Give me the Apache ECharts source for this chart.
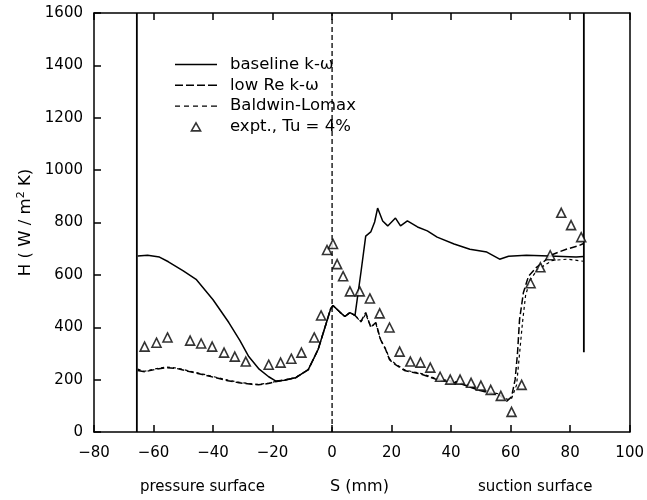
<!DOCTYPE html>
<html><head><meta charset="utf-8">
<script src="https://cdn.jsdelivr.net/npm/echarts@6/dist/echarts.min.js"></script>
<style>html,body{margin:0;padding:0;background:#fff}#c{width:647px;height:500px}</style>
</head><body><div id="c"></div>
<script>
// ---- data ----
var xTicks = [-80,-60,-40,-20,0,20,40,60,80,100];
var yTicks = [0,200,400,600,800,1000,1200,1400,1600];

var baseline = [[-65.3,672],[-62,675],[-58,668],[-55,650],[-50,615],[-45.7,583],[-40,505],[-34.7,418],[-31,350],[-28,288],[-24.5,240],[-21.3,211],[-19,195],[-16,198],[-12.3,207],[-8,238],[-4.7,315],[-2.3,403],[-0.5,470],[0.3,483],[2.7,457],[4.3,441],[6,456],[7.7,445],[9.7,610],[11.3,748],[13,764],[14.3,802],[15.3,855],[17,806],[18.7,787],[21.3,817],[23,787],[25.3,806],[28.7,783],[32,768],[35.3,744],[41,718],[46.3,698],[52,687],[56.3,660],[59.3,671],[65.3,675],[73,672],[82,668],[84.5,670]];

var lowRe = [[-65.3,235],[-63,230],[-59,240],[-55.7,246],[-52,242],[-48,231],[-43,218],[-39,207],[-35,196],[-31.3,188],[-27,182],[-24.7,180],[-21,186],[-19,192],[-16,198],[-12.3,207],[-8,238],[-4.7,315],[-2.3,403],[-0.5,470],[0.3,483],[2.7,457],[4.3,441],[6,456],[7.7,445],[9.7,422],[11.3,456],[13,400],[14.7,418],[16.3,353],[18,315],[19.3,276],[21.3,257],[24.3,235],[27,228],[29.7,222],[35.3,200],[43,185],[49.7,158],[56.3,140],[58.7,118],[60.3,134],[61.5,200],[62.3,300],[63,430],[64.3,533],[66,595],[68.7,629],[74.3,679],[78.7,698],[83,712],[84.5,720]];

var baldwin = [[-65.3,240],[-63,232],[-59,242],[-55.7,248],[-52,244],[-48,233],[-43,220],[-39,209],[-35,198],[-31.3,190],[-27,184],[-24.7,182],[-21,187],[-19,193],[-16,199],[-12.3,208],[-8,238],[-4.7,315],[-2.3,403],[-0.5,470],[0.3,483],[2.7,457],[4.3,441],[6,456],[7.7,445],[9.7,420],[11.3,450],[13,402],[14.7,415],[16.3,350],[18,318],[19.3,280],[21.3,260],[24.3,238],[27,230],[29.7,224],[35.3,203],[43,190],[49.7,160],[56.3,145],[58.7,125],[60.3,128],[62,180],[63,300],[64,420],[65,520],[66.5,580],[69,620],[74,655],[79,660],[84.5,652]];

var expt = [[-63,326],[-59,341],[-55.3,361],[-47.7,349],[-44,338],[-40.3,326],[-36.3,303],[-32.7,288],[-29,269],[-21.3,257],[-17.3,265],[-13.7,280],[-10.3,303],[-6,361],[-3.7,445],[-1.7,695],[0.3,718],[1.7,641],[3.7,595],[6,537],[9.3,537],[12.7,510],[16,453],[19.3,399],[22.7,307],[26.3,269],[29.7,265],[33,246],[36.3,211],[39.7,200],[43,200],[46.7,188],[50,177],[53.3,161],[56.7,138],[60.3,77],[63.7,180],[66.7,568],[70,629],[73.3,675],[77,837],[80.3,790],[83.7,744]];

var zeroLine = [[0,0],[0,1600]];
var leftEdge = [[-65.6,0],[-65.6,1600]];
var rightEdge = [[84.6,1600],[84.6,305]];

var names = ['baseline k-\u03c9','low Re k-\u03c9','Baldwin-Lomax','expt., Tu = 4%'];

var FONT = '"DejaVu Sans", Verdana, sans-serif';
var chart = echarts.init(document.getElementById('c'), null, {renderer:'canvas'});
var axisLine = {show:true, onZero:false, lineStyle:{color:'#000', width:1.5}};
var tick = {show:true, inside:true, length:7, lineStyle:{color:'#000', width:1.5}};
chart.setOption({
  animation:false,
  backgroundColor:'#fff',
  grid:{left:94, right:13, top:13, bottom:68, containLabel:false},
  legend:{
    orient:'vertical', left:170, top:51, itemWidth:42, itemHeight:8, itemGap:3.8,
    symbolKeepAspect:true,
    textStyle:{fontFamily:FONT, fontSize:16.5, color:'#000', padding:[0,0,0,8]},
    data:[
      {name:names[0], icon:'path://M0,0H42V1.6H0Z', itemStyle:{color:'#000', borderWidth:0}},
      {name:names[1], icon:'path://M0,0h8v1.6h-8zM11,0h8v1.6h-8zM22,0h8v1.6h-8zM33,0h9v1.6h-9z', itemStyle:{color:'#000', borderWidth:0}},
      {name:names[2], icon:'path://M0,0h5v1.3h-5zM9,0h5v1.3h-5zM18,0h5v1.3h-5zM27,0h5v1.3h-5zM36,0h6v1.3h-6z', itemStyle:{color:'#000', borderWidth:0}},
      {name:names[3], icon:'path://M4,0L8,7H0Z', itemStyle:{color:'#fff', borderColor:'#000', borderWidth:1.6}}
    ]
  },
  xAxis:[{
    type:'value', min:-80, max:100, interval:20, position:'bottom',
    axisLine:axisLine, axisTick:tick,
    axisLabel:{fontFamily:FONT, fontSize:15, color:'#000', margin:14, formatter:function(v){return v<0?'\u2212'+(-v):''+v;}},
    splitLine:{show:false}
  },{
    type:'value', min:-80, max:100, interval:20, position:'top',
    axisLine:axisLine, axisTick:tick,
    axisLabel:{show:false}, splitLine:{show:false}
  }],
  yAxis:[{
    type:'value', min:0, max:1600, interval:200, position:'left',
    axisLine:axisLine, axisTick:tick,
    axisLabel:{fontFamily:FONT, fontSize:15, color:'#000', margin:11, formatter:function(v){return ''+v;}},
    splitLine:{show:false},
    name:'H ( W / m{sup|2} K)', nameLocation:'middle', nameGap:52, nameRotate:90,
    nameTextStyle:{fontFamily:FONT, fontSize:16.5, color:'#000',
      rich:{sup:{fontFamily:FONT, fontSize:11, color:'#000', verticalAlign:'top', padding:[0,0,8,0]}}}
  },{
    type:'value', min:0, max:1600, interval:200, position:'right',
    axisLine:axisLine, axisTick:{show:false}, axisLabel:{show:false}, splitLine:{show:false}
  }],
  graphic:[
    {type:'text', left:140, top:480, style:{text:'pressure surface', font:'15px '+FONT, fill:'#000'}},
    {type:'text', left:330, top:479, style:{text:'S (mm)', font:'16px '+FONT, fill:'#000'}},
    {type:'text', left:478, top:480, style:{text:'suction surface', font:'15px '+FONT, fill:'#000'}}
  ],
  series:[
    {type:'line', data:zeroLine, symbol:'none', silent:true, lineStyle:{color:'#000', width:1.3, type:[5,3]}, z:1},
    {type:'line', data:leftEdge, symbol:'none', silent:true, lineStyle:{color:'#000', width:1.8}, z:1},
    {type:'line', data:rightEdge, symbol:'none', silent:true, lineStyle:{color:'#000', width:1.8}, z:1},
    {name:names[0], type:'line', data:baseline, symbol:'none', lineStyle:{color:'#000', width:1.5, type:'solid'}, itemStyle:{color:'#000'}, z:3},
    {name:names[1], type:'line', data:lowRe, symbol:'none', lineStyle:{color:'#000', width:1.5, type:[7,3]}, itemStyle:{color:'#000'}, z:3},
    {name:names[2], type:'line', data:baldwin, symbol:'none', lineStyle:{color:'#000', width:1.2, type:[3,3]}, itemStyle:{color:'#000'}, z:3},
    {name:names[3], type:'scatter', data:expt, symbol:'triangle', symbolSize:9,
      itemStyle:{color:'#fff', borderColor:'#000', borderWidth:1.6}, z:5}
  ]
});
</script></body></html>
